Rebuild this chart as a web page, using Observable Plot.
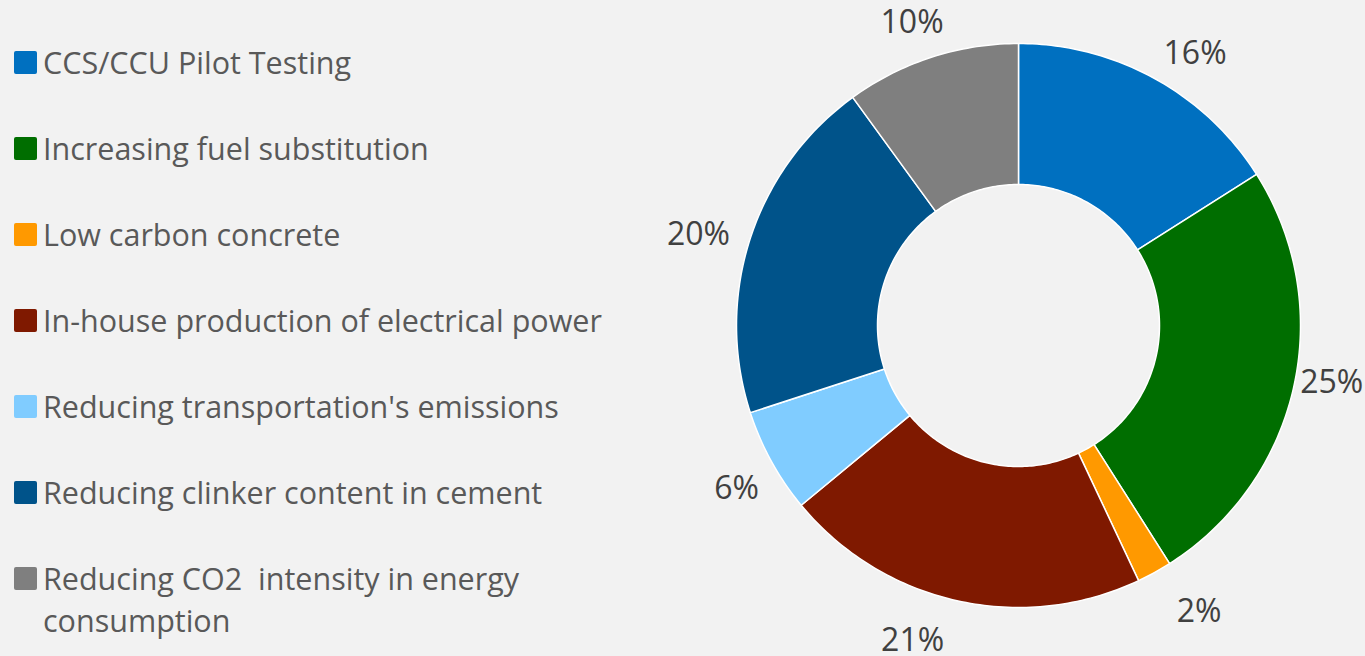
<!DOCTYPE html>
<html><head><meta charset="utf-8">
<script src="https://cdn.jsdelivr.net/npm/d3@7"></script>
<script src="https://cdn.jsdelivr.net/npm/@observablehq/plot@0.6"></script>
<style>
html,body{margin:0;padding:0;background:#F2F2F2;}
#wrap{position:relative;width:1365px;height:656px;overflow:hidden;background:#F2F2F2;}
#chart{position:absolute;left:0;top:0;}
#legend{position:absolute;left:0;top:0;font-family:"Open Sans",sans-serif;font-size:30.5px;line-height:42px;color:#595959;}
.item{position:absolute;left:14px;width:580px;}
.sw{position:absolute;left:0;top:10px;width:23px;height:23px;border-radius:2px;}
.tx{position:absolute;left:29px;top:0;width:560px;white-space:pre-wrap;}
</style>
</head><body>
<div id="wrap"><div id="chart"></div><div id="legend"></div></div>
<script>
const categories = ["CCS/CCU Pilot Testing","Increasing fuel substitution","Low carbon concrete","In-house production of electrical power","Reducing transportation's emissions","Reducing clinker content in cement","Reducing CO2  intensity in energy consumption"];
const values = [16, 25, 2, 21, 6, 20, 10];
const labels = ["16%","25%","2%","21%","6%","20%","10%"];
const colors = ["#0070C0","#006E00","#FF9900","#7F1900","#80CCFF","#00538A","#7F7F7F"];

// layout: label nudges in pixels (manual placement as in the source chart)
const labelNudge = [[20,13],[-4,-14],[24,1],[-35,-2],[3,7],[-11,10],[-6,6]];

const W = 1365, H = 656, CX = 1018, CY = 325, R = 282;
const inner = 0.5, labelR = 325 / R;

const arcs = d3.pie().sort(null).value(d => d)(values);
const poly = [];
arcs.forEach((a, i) => {
  const n = Math.max(8, Math.ceil((a.endAngle - a.startAngle) * 60));
  const pts = [];
  for (let k = 0; k <= n; k++) { const t = a.startAngle + (a.endAngle - a.startAngle) * k / n; pts.push([Math.sin(t), Math.cos(t)]); }
  for (let k = n; k >= 0; k--) { const t = a.startAngle + (a.endAngle - a.startAngle) * k / n; pts.push([inner*Math.sin(t), inner*Math.cos(t)]); }
  pts.push(pts[0]);
  pts.forEach(p => poly.push({cat: categories[i], x: p[0], y: p[1]}));
});
const lab = arcs.map((a, i) => {
  const m = (a.startAngle + a.endAngle) / 2;
  return {label: labels[i],
    x: labelR * Math.sin(m) + labelNudge[i][0] / R,
    y: labelR * Math.cos(m) - labelNudge[i][1] / R};
});

const chart = Plot.plot({
  width: W, height: H, margin: 0,
  style: {background: "transparent", fontFamily: "'Open Sans', sans-serif"},
  x: {domain: [-1, 1], range: [CX - R, CX + R], axis: null},
  y: {domain: [-1, 1], range: [CY + R, CY - R], axis: null},
  color: {domain: categories, range: colors, legend: false},
  marks: [
    Plot.line(poly, {x: "x", y: "y", z: "cat", fill: "cat", stroke: "white", strokeWidth: 1.5, curve: "linear"}),
    Plot.text(lab, {x: "x", y: "y", text: "label", fill: "#404040", fontSize: 32})
  ]
});
document.getElementById("chart").appendChild(chart);

const leg = document.getElementById("legend");
categories.forEach((c, i) => {
  const it = document.createElement("div");
  it.className = "item";
  it.style.top = (41 + i * 86) + "px";
  it.innerHTML = `<div class="sw" style="background:${colors[i]}"></div><div class="tx"></div>`;
  it.querySelector(".tx").textContent = c;
  leg.appendChild(it);
});
</script>
</body></html>
